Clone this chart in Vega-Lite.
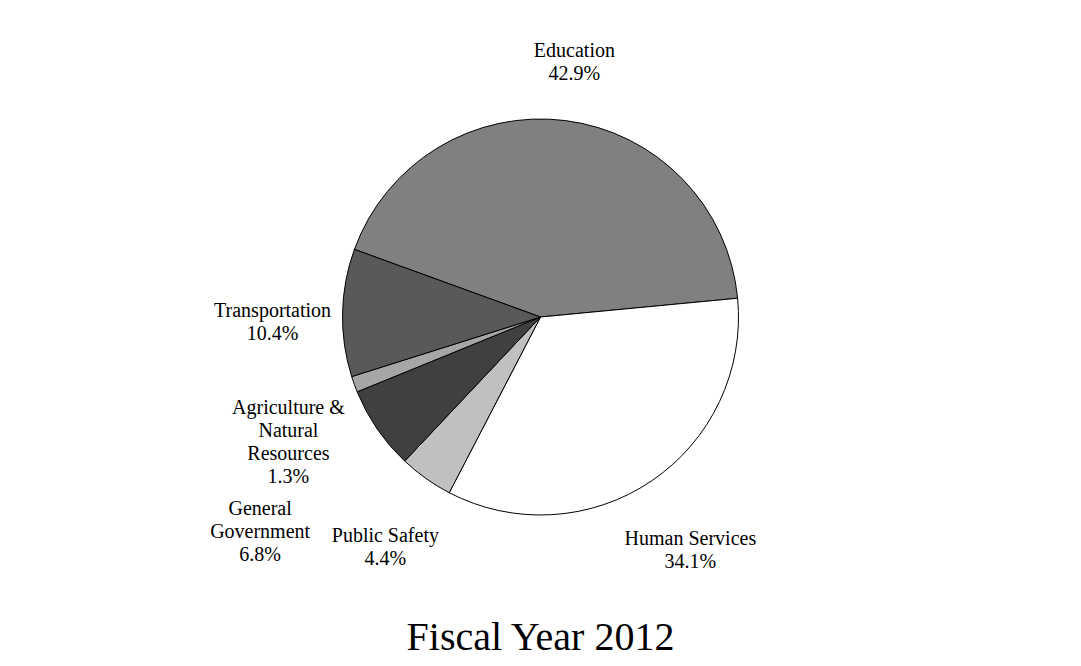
{
  "$schema": "https://vega.github.io/schema/vega-lite/v6.json",
  "width": 1081,
  "height": 666,
  "autosize": {"type": "fit", "contains": "padding"},
  "padding": {"left": 5, "right": 5, "top": 5, "bottom": 8},
  "background": "white",
  "title": {
    "text": "Fiscal Year 2012",
    "orient": "bottom",
    "font": "Liberation Serif",
    "fontSize": 40,
    "fontWeight": "normal",
    "color": "black",
    "offset": 4
  },
  "data": {
    "values": [
      {"category": "Education", "share": 42.9, "order": 1, "label": "Education\n42.9%"},
      {"category": "Human Services", "share": 34.1, "order": 2, "label": "Human Services\n34.1%"},
      {"category": "Public Safety", "share": 4.4, "order": 3, "label": "Public Safety\n4.4%"},
      {"category": "General Government", "share": 6.8, "order": 4, "label": "General\nGovernment\n6.8%"},
      {"category": "Agriculture & Natural Resources", "share": 1.3, "order": 5, "label": "Agriculture &\nNatural\nResources\n1.3%"},
      {"category": "Transportation", "share": 10.4, "order": 6, "label": "Transportation\n10.4%"}
    ]
  },
  "encoding": {
    "theta": {"field": "share", "type": "quantitative", "stack": true, "scale": {"range": [5.061, 11.344]}},
    "order": {"field": "order", "type": "quantitative"}
  },
  "layer": [
    {
      "mark": {"type": "arc", "outerRadius": 198, "stroke": "black", "strokeWidth": 1},
      "encoding": {
        "color": {
          "field": "category",
          "type": "nominal",
          "legend": null,
          "scale": {
            "domain": ["Education", "Human Services", "Public Safety", "General Government", "Agriculture & Natural Resources", "Transportation"],
            "range": ["#808080", "#ffffff", "#c0c0c0", "#404040", "#a6a6a6", "#595959"]
          }
        }
      }
    },
    {
      "mark": {"type": "text", "radius": 268, "lineBreak": "\n", "font": "Liberation Serif", "fontSize": 20, "color": "black", "lineHeight": 23},
      "encoding": {
        "text": {"condition": {"test": "datum.category == 'General Government'", "value": ""}, "field": "label", "type": "nominal"}
      }
    },
    {
      "mark": {"type": "text", "radius": 340, "lineBreak": "\n", "font": "Liberation Serif", "fontSize": 20, "color": "black", "lineHeight": 23},
      "encoding": {
        "text": {"condition": {"test": "datum.category != 'General Government'", "value": ""}, "field": "label", "type": "nominal"}
      }
    }
  ]
}
